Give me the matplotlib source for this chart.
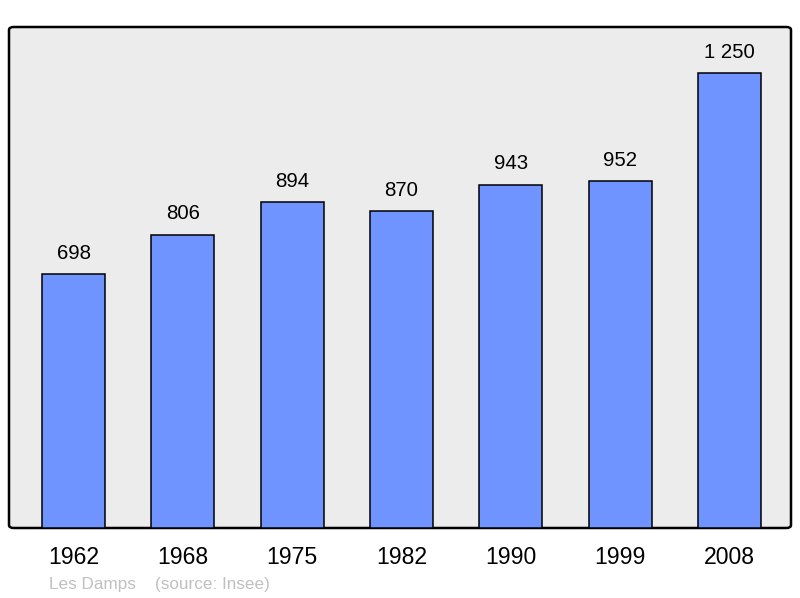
import matplotlib.pyplot as plt
import matplotlib.patches as patches

years = ['1962', '1968', '1975', '1982', '1990', '1999', '2008']
population = [698, 806, 894, 870, 943, 952, 1250]
value_labels = ['698', '806', '894', '870', '943', '952', '1 250']

plt.rcParams['font.family'] = ['Liberation Sans', 'DejaVu Sans']

fig = plt.figure(figsize=(8, 5.98), dpi=100)
ax = fig.add_axes([9 / 800, 70 / 598, 782 / 800, 501 / 598])

# Rounded grey frame instead of the plain axes patch
ax.patch.set_visible(False)
for s in ax.spines.values():
    s.set_visible(False)
frame = patches.FancyBboxPatch((0, 0), 1, 1, boxstyle="round,pad=0,rounding_size=0.006",
                               transform=ax.transAxes, facecolor='#ececec',
                               edgecolor='black', lw=1.8, zorder=0, clip_on=False)
ax.add_patch(frame)

x = range(len(years))
ax.bar(x, population, width=0.575, color='#7094ff', edgecolor='black', lw=1.1, zorder=2)

for i, (v, lab) in enumerate(zip(population, value_labels)):
    ax.annotate(lab, (i, v), xytext=(0, 15), textcoords='offset points',
                ha='center', va='center', fontsize=14.7, color='black')

ax.set_xlim(-0.59, 6.562)
ax.set_ylim(0, 1376)
ax.set_xticks(list(x))
ax.set_xticklabels(years, fontsize=16.6)
ax.tick_params(axis='x', length=0, pad=13)
ax.set_yticks([])

fig.text(49 / 800, 1 - 584 / 598, 'Les Damps', fontsize=12.3, color='#c0c0c0', va='center')
fig.text(155 / 800, 1 - 584 / 598, '(source: Insee)', fontsize=12.3, color='#c0c0c0', va='center')

fig.savefig('out.png', dpi=100)
